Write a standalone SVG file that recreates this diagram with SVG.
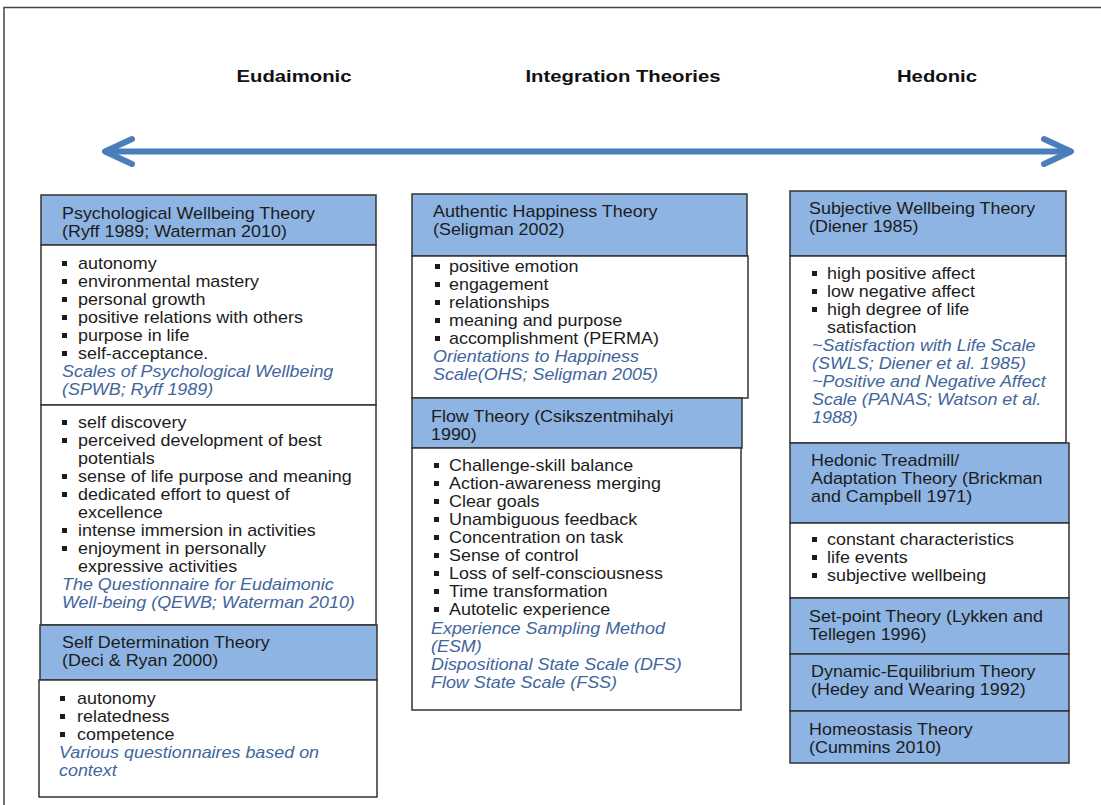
<svg xmlns="http://www.w3.org/2000/svg" width="1101" height="805" viewBox="0 0 1101 805">
<style>
.hdr{fill:#8DB4E2;stroke:#333;stroke-width:1.5}
.bdy{fill:#fff;stroke:#333;stroke-width:1.5}
.t{font-family:"Liberation Sans",Arial,sans-serif;font-size:16px;fill:#1c1c1c}
.i{font-family:"Liberation Sans",Arial,sans-serif;font-size:16px;font-style:italic;fill:#41659C}
.ttl{font-family:"Liberation Sans",Arial,sans-serif;font-size:16px;font-weight:bold;fill:#111;text-anchor:middle}
.bl{fill:#1c1c1c}
.arr{fill:none;stroke:#4A7EBB;stroke-width:6;stroke-linecap:round;stroke-linejoin:round}
</style>
<rect width="1101" height="805" fill="#fff"/>
<path d="M4,805 V7.5 H1101" fill="none" stroke="#444" stroke-width="1.5"/>

<g id="titles">
<text class="ttl" transform="translate(294 82) scale(1.27 1)">Eudaimonic</text>
<text class="ttl" transform="translate(623 82) scale(1.27 1)">Integration Theories</text>
<text class="ttl" transform="translate(937 82) scale(1.27 1)">Hedonic</text>
</g>

<g id="connectors">
<path class="arr" d="M106,151.5 H1070"/>
<path class="arr" d="M132,139 L105,151.5 L132,164"/>
<path class="arr" d="M1044,139 L1071,151.5 L1044,164"/>
</g>

<g id="pwt-header">
<rect class="hdr" x="41" y="195" width="335" height="50"/>
<text class="t" transform="translate(62 219) scale(1.12 1)"><tspan x="0" dy="0">Psychological Wellbeing Theory</tspan><tspan x="0" dy="18">(Ryff 1989; Waterman 2010)</tspan></text>
</g>

<g id="pwt-body1">
<rect class="bdy" x="41" y="245" width="335" height="160"/>
<g class="bl"><rect x="62" y="261" width="5" height="5"/><rect x="62" y="279" width="5" height="5"/><rect x="62" y="297" width="5" height="5"/><rect x="62" y="315" width="5" height="5"/><rect x="62" y="333" width="5" height="5"/><rect x="62" y="351" width="5" height="5"/></g>
<text class="t" transform="translate(78 269) scale(1.12 1)"><tspan x="0" dy="0">autonomy</tspan><tspan x="0" dy="18">environmental mastery</tspan><tspan x="0" dy="18">personal growth</tspan><tspan x="0" dy="18">positive relations with others</tspan><tspan x="0" dy="18">purpose in life</tspan><tspan x="0" dy="18">self-acceptance.</tspan></text>
<text class="i" transform="translate(62 377) scale(1.12 1)"><tspan x="0" dy="0">Scales of Psychological Wellbeing</tspan><tspan x="0" dy="18">(SPWB; Ryff 1989)</tspan></text>
</g>

<g id="pwt-body2">
<rect class="bdy" x="41" y="405" width="335" height="220"/>
<g class="bl"><rect x="62" y="420" width="5" height="5"/><rect x="62" y="438" width="5" height="5"/><rect x="62" y="474" width="5" height="5"/><rect x="62" y="492" width="5" height="5"/><rect x="62" y="528" width="5" height="5"/><rect x="62" y="546" width="5" height="5"/></g>
<text class="t" transform="translate(78 428) scale(1.12 1)"><tspan x="0" dy="0">self discovery</tspan><tspan x="0" dy="18">perceived development of best</tspan><tspan x="0" dy="18">potentials</tspan><tspan x="0" dy="18">sense of life purpose and meaning</tspan><tspan x="0" dy="18">dedicated effort to quest of</tspan><tspan x="0" dy="18">excellence</tspan><tspan x="0" dy="18">intense immersion in activities</tspan><tspan x="0" dy="18">enjoyment in personally</tspan><tspan x="0" dy="18">expressive activities</tspan></text>
<text class="i" transform="translate(62 590) scale(1.12 1)"><tspan x="0" dy="0">The Questionnaire for Eudaimonic</tspan><tspan x="0" dy="18">Well-being (QEWB; Waterman 2010)</tspan></text>
</g>

<g id="sdt-header">
<rect class="hdr" x="40" y="625" width="337" height="55"/>
<text class="t" transform="translate(62 648) scale(1.12 1)"><tspan x="0" dy="0">Self Determination Theory</tspan><tspan x="0" dy="18">(Deci &amp; Ryan 2000)</tspan></text>
</g>

<g id="sdt-body">
<rect class="bdy" x="39" y="680" width="338" height="117"/>
<g class="bl"><rect x="60" y="696" width="5" height="5"/><rect x="60" y="714" width="5" height="5"/><rect x="60" y="732" width="5" height="5"/></g>
<text class="t" transform="translate(77 704) scale(1.12 1)"><tspan x="0" dy="0">autonomy</tspan><tspan x="0" dy="18">relatedness</tspan><tspan x="0" dy="18">competence</tspan></text>
<text class="i" transform="translate(59 758) scale(1.12 1)"><tspan x="0" dy="0">Various questionnaires based on</tspan><tspan x="0" dy="18">context</tspan></text>
</g>

<g id="aht-header">
<rect class="hdr" x="412" y="194" width="335" height="62"/>
<text class="t" transform="translate(433 217) scale(1.12 1)"><tspan x="0" dy="0">Authentic Happiness Theory</tspan><tspan x="0" dy="18">(Seligman 2002)</tspan></text>
</g>

<g id="aht-body">
<rect class="bdy" x="412" y="256" width="336" height="142"/>
<g class="bl"><rect x="435" y="264" width="5" height="5"/><rect x="435" y="282" width="5" height="5"/><rect x="435" y="300" width="5" height="5"/><rect x="435" y="318" width="5" height="5"/><rect x="435" y="336" width="5" height="5"/></g>
<text class="t" transform="translate(449 272) scale(1.12 1)"><tspan x="0" dy="0">positive emotion</tspan><tspan x="0" dy="18">engagement</tspan><tspan x="0" dy="18">relationships</tspan><tspan x="0" dy="18">meaning and purpose</tspan><tspan x="0" dy="18">accomplishment (PERMA)</tspan></text>
<text class="i" transform="translate(433 362) scale(1.12 1)"><tspan x="0" dy="0">Orientations to Happiness</tspan><tspan x="0" dy="18">Scale(OHS; Seligman 2005)</tspan></text>
</g>

<g id="flow-header">
<rect class="hdr" x="412" y="398" width="330" height="50"/>
<text class="t" transform="translate(431 422) scale(1.12 1)"><tspan x="0" dy="0">Flow Theory (Csikszentmihalyi</tspan><tspan x="0" dy="18">1990)</tspan></text>
</g>

<g id="flow-body">
<rect class="bdy" x="412" y="448" width="329" height="262"/>
<g class="bl"><rect x="434" y="463" width="5" height="5"/><rect x="434" y="481" width="5" height="5"/><rect x="434" y="499" width="5" height="5"/><rect x="434" y="517" width="5" height="5"/><rect x="434" y="535" width="5" height="5"/><rect x="434" y="553" width="5" height="5"/><rect x="434" y="571" width="5" height="5"/><rect x="434" y="589" width="5" height="5"/><rect x="434" y="607" width="5" height="5"/></g>
<text class="t" transform="translate(449 471) scale(1.12 1)"><tspan x="0" dy="0">Challenge-skill balance</tspan><tspan x="0" dy="18">Action-awareness merging</tspan><tspan x="0" dy="18">Clear goals</tspan><tspan x="0" dy="18">Unambiguous feedback</tspan><tspan x="0" dy="18">Concentration on task</tspan><tspan x="0" dy="18">Sense of control</tspan><tspan x="0" dy="18">Loss of self-consciousness</tspan><tspan x="0" dy="18">Time transformation</tspan><tspan x="0" dy="18">Autotelic experience</tspan></text>
<text class="i" transform="translate(431 634) scale(1.12 1)"><tspan x="0" dy="0">Experience Sampling Method</tspan><tspan x="0" dy="18">(ESM)</tspan><tspan x="0" dy="18">Dispositional State Scale (DFS)</tspan><tspan x="0" dy="18">Flow State Scale (FSS)</tspan></text>
</g>

<g id="swt-header">
<rect class="hdr" x="790" y="191" width="276" height="65"/>
<text class="t" transform="translate(809 214) scale(1.12 1)"><tspan x="0" dy="0">Subjective Wellbeing Theory</tspan><tspan x="0" dy="18">(Diener 1985)</tspan></text>
</g>

<g id="swt-body">
<rect class="bdy" x="790" y="256" width="276" height="187"/>
<g class="bl"><rect x="812" y="271" width="5" height="5"/><rect x="812" y="289" width="5" height="5"/><rect x="812" y="307" width="5" height="5"/></g>
<text class="t" transform="translate(827 279) scale(1.12 1)"><tspan x="0" dy="0">high positive affect</tspan><tspan x="0" dy="18">low negative affect</tspan><tspan x="0" dy="18">high degree of life</tspan><tspan x="0" dy="18">satisfaction</tspan></text>
<text class="i" transform="translate(812 351) scale(1.12 1)"><tspan x="0" dy="0">~Satisfaction with Life Scale</tspan><tspan x="0" dy="18">(SWLS; Diener et al. 1985)</tspan><tspan x="0" dy="18">~Positive and Negative Affect</tspan><tspan x="0" dy="18">Scale (PANAS; Watson et al.</tspan><tspan x="0" dy="18">1988)</tspan></text>
</g>

<g id="ht-header">
<rect class="hdr" x="790" y="443" width="279" height="80"/>
<text class="t" transform="translate(811 466) scale(1.12 1)"><tspan x="0" dy="0">Hedonic Treadmill/</tspan><tspan x="0" dy="18">Adaptation Theory (Brickman</tspan><tspan x="0" dy="18">and Campbell 1971)</tspan></text>
</g>

<g id="ht-body">
<rect class="bdy" x="790" y="523" width="279" height="75"/>
<g class="bl"><rect x="812" y="537" width="5" height="5"/><rect x="812" y="555" width="5" height="5"/><rect x="812" y="573" width="5" height="5"/></g>
<text class="t" transform="translate(827 545) scale(1.12 1)"><tspan x="0" dy="0">constant characteristics</tspan><tspan x="0" dy="18">life events</tspan><tspan x="0" dy="18">subjective wellbeing</tspan></text>
</g>

<g id="setpoint">
<rect class="hdr" x="790" y="598" width="279" height="56"/>
<text class="t" transform="translate(809 622) scale(1.12 1)"><tspan x="0" dy="0">Set-point Theory (Lykken and</tspan><tspan x="0" dy="18">Tellegen 1996)</tspan></text>
</g>

<g id="dynamic">
<rect class="hdr" x="790" y="654" width="279" height="57"/>
<text class="t" transform="translate(811 677) scale(1.12 1)"><tspan x="0" dy="0">Dynamic-Equilibrium Theory</tspan><tspan x="0" dy="18">(Hedey and Wearing 1992)</tspan></text>
</g>

<g id="homeostasis">
<rect class="hdr" x="790" y="711" width="279" height="52"/>
<text class="t" transform="translate(809 735) scale(1.12 1)"><tspan x="0" dy="0">Homeostasis Theory</tspan><tspan x="0" dy="18">(Cummins 2010)</tspan></text>
</g>
</svg>
